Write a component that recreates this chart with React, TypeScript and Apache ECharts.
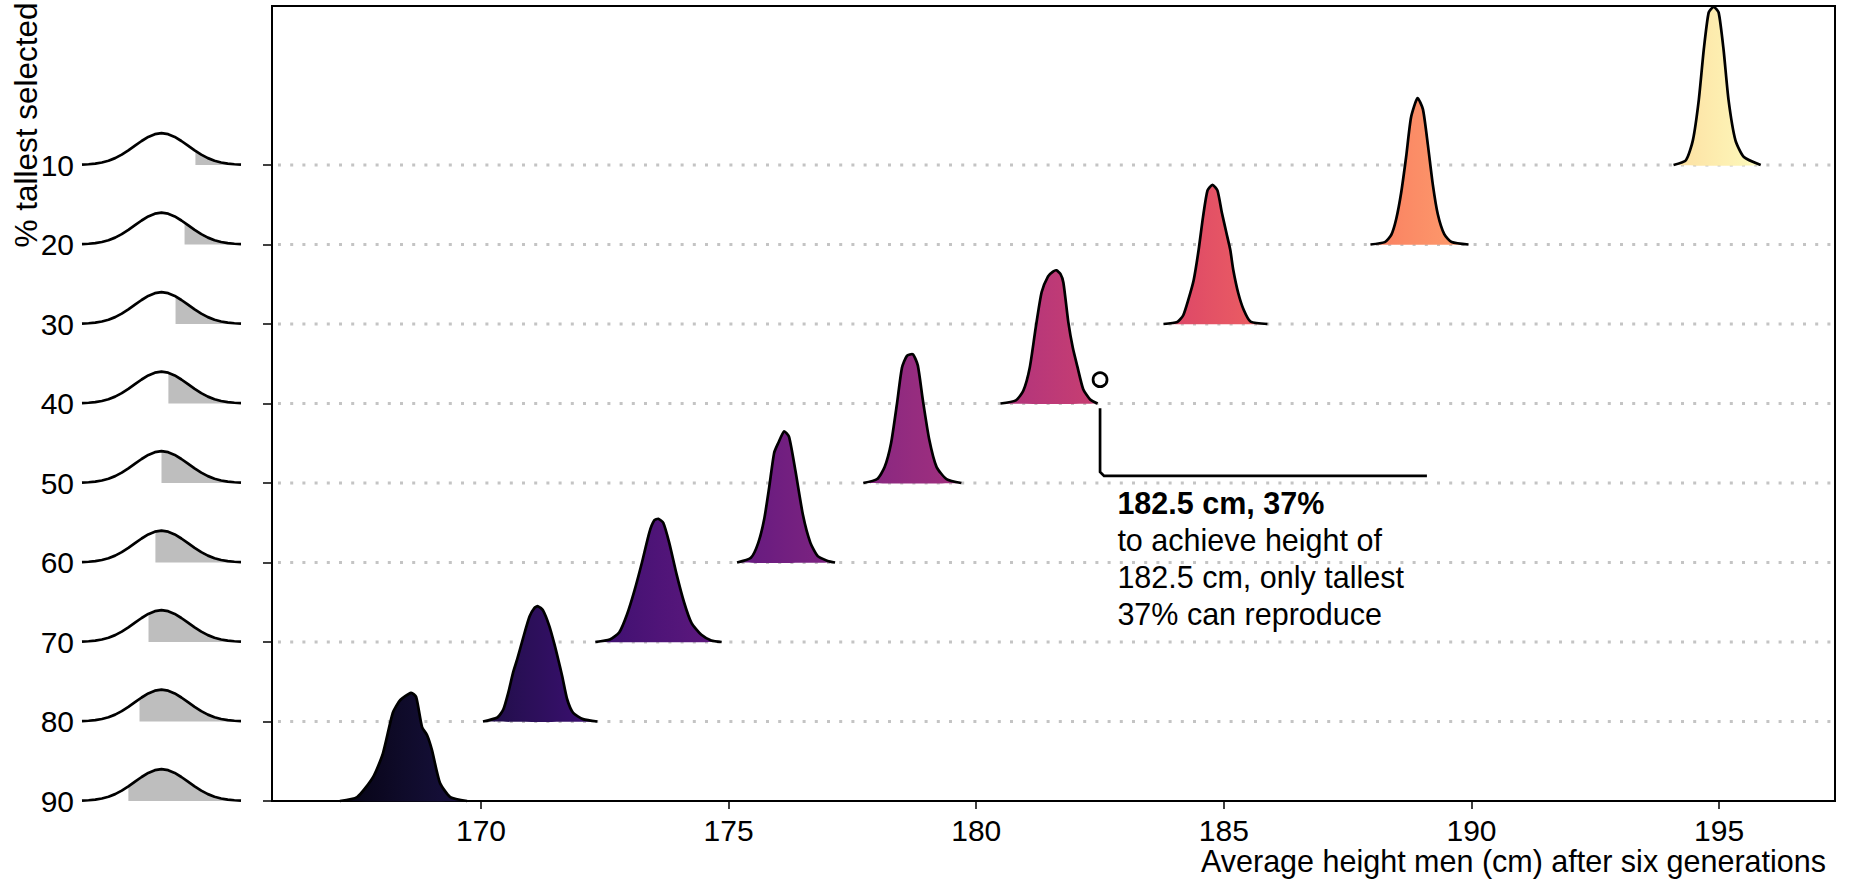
import { useEffect, useRef } from "react";
import * as echarts from "echarts";

// ---------- axes ----------
const Y_TICKS = [10, 20, 30, 40, 50, 60, 70, 80, 90];
const GRID_LEVELS = [10, 20, 30, 40, 50, 60, 70, 80];
const X_TICKS = [170, 175, 180, 185, 190, 195];
const X_MIN = 165.78;
const X_MAX = 197.34;
const Y_MIN = -10;
const Y_MAX = 90;

// ---------- ridge densities (x in cm, height in axis units above baseline) ----------
const R10_X = [194.08, 194.33, 194.47, 194.59, 194.69, 194.79, 194.89, 194.99, 195.09, 195.19, 195.33, 195.5, 195.84];
const R10_H = [0, 0.6, 3.1, 8.2, 14.5, 19.2, 19.9, 19.2, 14.5, 8.2, 3.1, 1.0, 0];

const R20_X = [187.96, 188.25, 188.38, 188.48, 188.58, 188.68, 188.78, 188.91, 189.02, 189.12, 189.22, 189.32, 189.45, 189.6, 189.94];
const R20_H = [0, 0.3, 1.2, 3.2, 6.5, 11.0, 16.0, 18.4, 17.0, 12.5, 7.5, 3.8, 1.3, 0.3, 0];

const R30_X = [183.78, 184.06, 184.18, 184.28, 184.39, 184.49, 184.58, 184.67, 184.77, 184.87, 184.96, 185.05, 185.13, 185.19, 185.29, 185.4, 185.54, 185.88];
const R30_H = [0, 0.25, 1.1, 3.0, 5.5, 9.3, 13.5, 16.8, 17.5, 16.8, 14.0, 11.5, 9.3, 6.8, 3.9, 1.8, 0.3, 0];

const R40_X = [180.49, 180.8, 180.95, 181.08, 181.2, 181.32, 181.45, 181.55, 181.62, 181.7, 181.76, 181.86, 181.95, 182.04, 182.16, 182.3, 182.45];
const R40_H = [0, 0.4, 1.6, 4.5, 9.5, 14.0, 16.0, 16.6, 16.75, 16.3, 15.2, 10.2, 7.0, 4.7, 1.8, 0.5, 0];

const R50_X = [177.72, 178.0, 178.15, 178.28, 178.4, 178.5, 178.6, 178.72, 178.82, 178.92, 179.05, 179.2, 179.4, 179.7];
const R50_H = [0, 0.5, 2.0, 5.0, 10.0, 14.5, 16.0, 16.2, 14.8, 10.5, 5.5, 2.0, 0.5, 0];

const R60_X = [175.17, 175.45, 175.6, 175.72, 175.82, 175.92, 176.0, 176.12, 176.22, 176.35, 176.5, 176.65, 176.8, 177.0, 177.15];
const R60_H = [0, 0.6, 2.5, 5.5, 9.5, 13.8, 15.0, 16.5, 15.8, 11.5, 6.0, 2.5, 0.8, 0.2, 0];

const R70_X = [172.31, 172.6, 172.79, 172.95, 173.1, 173.25, 173.4, 173.5, 173.58, 173.68, 173.8, 173.95, 174.1, 174.25, 174.45, 174.65, 174.86];
const R70_H = [0, 0.3, 1.2, 3.5, 6.5, 10.0, 13.8, 15.3, 15.5, 15.0, 12.5, 8.5, 5.0, 2.4, 0.9, 0.2, 0];

const R80_X = [170.04, 170.33, 170.45, 170.55, 170.65, 170.73, 170.85, 170.98, 171.08, 171.15, 171.25, 171.38, 171.48, 171.56, 171.64, 171.74, 171.86, 172.06, 172.35];
const R80_H = [0, 0.5, 1.5, 3.6, 6.2, 7.8, 10.5, 13.2, 14.3, 14.5, 14.0, 12.0, 9.8, 7.8, 5.7, 2.8, 1.1, 0.3, 0];

const R90_X = [167.15, 167.5, 167.82, 168.02, 168.22, 168.37, 168.59, 168.69, 168.81, 168.91, 169.01, 169.17, 169.38, 169.72];
const R90_H = [0, 0.5, 3.0, 6.0, 11.1, 12.7, 13.6, 13.1, 9.3, 8.3, 6.4, 2.3, 0.5, 0];

const RIDGE_LEVELS = [10, 20, 30, 40, 50, 60, 70, 80, 90];
const RIDGE_XS = [R10_X, R20_X, R30_X, R40_X, R50_X, R60_X, R70_X, R80_X, R90_X];
const RIDGE_HS = [R10_H, R20_H, R30_H, R40_H, R50_H, R60_H, R70_H, R80_H, R90_H];

// ---------- small reference normal curves on the left ----------
const LEFT_Z = [-3, -2.75, -2.5, -2.25, -2, -1.75, -1.5, -1.25, -1, -0.75, -0.5, -0.25, 0, 0.25, 0.5, 0.75, 1, 1.25, 1.5, 1.75, 2, 2.25, 2.5, 2.75, 3];
const LEFT_H = [0.011, 0.023, 0.044, 0.08, 0.135, 0.216, 0.325, 0.458, 0.607, 0.755, 0.882, 0.969, 1, 0.969, 0.882, 0.755, 0.607, 0.458, 0.325, 0.216, 0.135, 0.08, 0.044, 0.023, 0.011];
const LEFT_THRESHOLD_Z = [1.28, 0.87, 0.53, 0.26, 0, -0.23, -0.49, -0.83, -1.25];
const LEFT_PEAK = 4.0;

// ---------- annotation ----------
const ANNOT_X = 182.5;
const ANNOT_PCT = 37;
const CONNECT_Y0 = 40.6;
const CONNECT_Y1 = 49.1;
const CONNECT_X1 = 189.1;
const ANNOT_TEXT_X = 182.85;
const ANNOT_TEXT_Y = 52.5;
const ANNOT_LINES = ["182.5 cm, 37%", "to achieve height of", "182.5 cm, only tallest", "37% can reproduce"];

const FONT = "'Liberation Sans', Arial, Helvetica, sans-serif";

const MAGMA = ["#000004", "#140e36", "#3b0f70", "#641a80", "#8c2981", "#b73779", "#de4968", "#f7705c", "#fe9f6d", "#fecf92", "#fcfdbf"];
const C_LO = 166.2;
const C_HI = 196.0;

function hexToRgb(h: string) {
  return [parseInt(h.slice(1, 3), 16), parseInt(h.slice(3, 5), 16), parseInt(h.slice(5, 7), 16)];
}
function magma(t: number) {
  const tt = Math.max(0, Math.min(1, t)) * (MAGMA.length - 1);
  const i = Math.min(MAGMA.length - 2, Math.floor(tt));
  const f = tt - i;
  const a = hexToRgb(MAGMA[i]);
  const b = hexToRgb(MAGMA[i + 1]);
  const c = a.map((v, k) => Math.round(v + (b[k] - v) * f));
  return `rgb(${c[0]},${c[1]},${c[2]})`;
}

export default function App() {
  const ref = useRef<HTMLDivElement>(null);
  useEffect(() => {
    if (!ref.current) return;
    const chart = echarts.init(ref.current, null, { renderer: "svg" });

    const ridgeRender = (params: any, api: any) => {
      const i = api.value(2);
      const L = RIDGE_LEVELS[i];
      const xs = RIDGE_XS[i];
      const hs = RIDGE_HS[i];
      const pts = xs.map((x, k) => api.coord([x, L - hs[k]]));
      const x0 = xs[0];
      const x1 = xs[xs.length - 1];
      const stops = [];
      for (let s = 0; s <= 6; s++) {
        const xv = x0 + ((x1 - x0) * s) / 6;
        stops.push({ offset: s / 6, color: magma((xv - C_LO) / (C_HI - C_LO)) });
      }
      return {
        type: "group",
        children: [
          {
            type: "polygon",
            shape: { points: pts, smooth: 0.2 },
            style: { fill: new echarts.graphic.LinearGradient(0, 0, 1, 0, stops), stroke: "none" },
          },
          {
            type: "polyline",
            shape: { points: pts, smooth: 0.2 },
            style: { fill: "none", stroke: "#000", lineWidth: 2.7, lineJoin: "round" },
          },
        ],
      };
    };

    const gridRender = (params: any, api: any) => {
      const L = api.value(1);
      const a = api.coord([X_MIN, L]);
      const b = api.coord([X_MAX, L]);
      return {
        type: "line",
        shape: { x1: a[0] + 6, y1: a[1], x2: b[0] - 2, y2: b[1] },
        style: { stroke: "#c4c4c4", lineWidth: 3, lineDash: [3, 9.2] },
      };
    };

    const leftRender = (params: any, api: any) => {
      const i = api.value(2);
      const L = api.value(1);
      const t = LEFT_THRESHOLD_Z[i];
      const curve = LEFT_Z.map((z, k) => api.coord([z, L - LEFT_H[k] * LEFT_PEAK]));
      let ht = 0;
      for (let k = 0; k < LEFT_Z.length - 1; k++) {
        if (t >= LEFT_Z[k] && t <= LEFT_Z[k + 1]) {
          const f = (t - LEFT_Z[k]) / (LEFT_Z[k + 1] - LEFT_Z[k]);
          ht = LEFT_H[k] + (LEFT_H[k + 1] - LEFT_H[k]) * f;
        }
      }
      const shade = [api.coord([t, L]), api.coord([t, L - ht * LEFT_PEAK])];
      LEFT_Z.forEach((z, k) => {
        if (z > t) shade.push(api.coord([z, L - LEFT_H[k] * LEFT_PEAK]));
      });
      shade.push(api.coord([3, L]));
      return {
        type: "group",
        children: [
          { type: "polygon", shape: { points: shade }, style: { fill: "#bebebe", stroke: "none" } },
          {
            type: "polyline",
            shape: { points: curve },
            style: { fill: "none", stroke: "#000", lineWidth: 2.7, lineJoin: "round" },
          },
        ],
      };
    };

    const annotRender = (params: any, api: any) => {
      const c = api.coord([ANNOT_X, ANNOT_PCT]);
      const p0 = api.coord([ANNOT_X, CONNECT_Y0]);
      const p1 = api.coord([ANNOT_X, CONNECT_Y1]);
      const p2 = api.coord([CONNECT_X1, CONNECT_Y1]);
      const tp = api.coord([ANNOT_TEXT_X, ANNOT_TEXT_Y]);
      const texts = ANNOT_LINES.map((s, k) => ({
        type: "text",
        x: tp[0],
        y: tp[1] + k * 37,
        style: {
          text: s,
          fill: "#000",
          fontSize: 30.5,
          fontFamily: FONT,
          fontWeight: k === 0 ? "bold" : "normal",
          align: "left",
          verticalAlign: "middle",
          textAlign: "left",
          textVerticalAlign: "middle",
        },
      }));
      return {
        type: "group",
        children: [
          {
            type: "polyline",
            shape: { points: [p0, [p1[0], p1[1] - 4], [p1[0] + 4, p1[1]], p2] },
            style: { fill: "none", stroke: "#000", lineWidth: 2.7 },
          },
          {
            type: "circle",
            shape: { cx: c[0], cy: c[1], r: 7 },
            style: { fill: "#fff", stroke: "#000", lineWidth: 2.7 },
          },
          ...texts,
        ],
      };
    };

    const option: any = {
      animation: false,
      backgroundColor: "#fff",
      textStyle: { fontFamily: FONT },
      grid: [
        { left: 272, right: 14, top: 6, bottom: 81, show: true, borderColor: "#000", borderWidth: 2, backgroundColor: "transparent" },
        { left: 82, width: 159, top: 6, bottom: 81, show: false },
      ],
      xAxis: [
        {
          type: "value",
          gridIndex: 0,
          min: X_MIN,
          max: X_MAX,
          position: "bottom",
          splitLine: { show: false },
          axisLine: { show: true, onZero: false, lineStyle: { color: "#000", width: 2 } },
          axisTick: { show: true, customValues: X_TICKS, length: 8, lineStyle: { color: "#000", width: 1.5 } },
          axisLabel: { show: true, customValues: X_TICKS, fontSize: 30, color: "#000", margin: 14, fontFamily: FONT },
        },
        { type: "value", gridIndex: 1, min: -3, max: 3, show: false },
      ],
      yAxis: [
        {
          type: "value",
          gridIndex: 0,
          inverse: true,
          min: Y_MIN,
          max: Y_MAX,
          position: "left",
          splitLine: { show: false },
          axisLine: { show: true, onZero: false, lineStyle: { color: "#000", width: 2 } },
          axisTick: { show: true, customValues: Y_TICKS, length: 9, lineStyle: { color: "#000", width: 1.5 } },
          axisLabel: { show: true, customValues: Y_TICKS, fontSize: 30, color: "#000", margin: 198, fontFamily: FONT },
        },
        { type: "value", gridIndex: 1, inverse: true, min: Y_MIN, max: Y_MAX, show: false },
      ],
      series: [
        {
          type: "custom",
          xAxisIndex: 0,
          yAxisIndex: 0,
          z: 1,
          data: GRID_LEVELS.map((l) => [X_MIN, l]),
          renderItem: gridRender,
          silent: true,
        },
        {
          type: "custom",
          xAxisIndex: 0,
          yAxisIndex: 0,
          z: 2,
          data: RIDGE_LEVELS.map((l, i) => [RIDGE_XS[i][0], l, i]),
          renderItem: ridgeRender,
          silent: true,
        },
        {
          type: "custom",
          xAxisIndex: 1,
          yAxisIndex: 1,
          z: 2,
          data: Y_TICKS.map((l, i) => [0, l, i]),
          renderItem: leftRender,
          silent: true,
        },
        {
          type: "custom",
          xAxisIndex: 0,
          yAxisIndex: 0,
          z: 3,
          data: [[ANNOT_X, ANNOT_PCT]],
          renderItem: annotRender,
          silent: true,
        },
      ],
      graphic: [
        {
          type: "text",
          x: 26,
          y: 125,
          rotation: Math.PI / 2,
          style: {
            text: "% tallest selected",
            fill: "#000",
            fontSize: 31.5,
            fontFamily: FONT,
            align: "center",
            verticalAlign: "middle",
            textAlign: "center",
            textVerticalAlign: "middle",
          },
        },
        {
          type: "text",
          x: 1826,
          y: 861,
          style: {
            text: "Average height men (cm) after six generations",
            fill: "#000",
            fontSize: 30.5,
            fontFamily: FONT,
            align: "right",
            verticalAlign: "middle",
            textAlign: "right",
            textVerticalAlign: "middle",
          },
        },
      ],
    };
    chart.setOption(option);
    return () => chart.dispose();
  }, []);

  return (
    <div
      ref={ref}
      style={{ position: "absolute", left: 0, top: 0, width: "1849px", height: "882px", background: "#fff" }}
    />
  );
}
